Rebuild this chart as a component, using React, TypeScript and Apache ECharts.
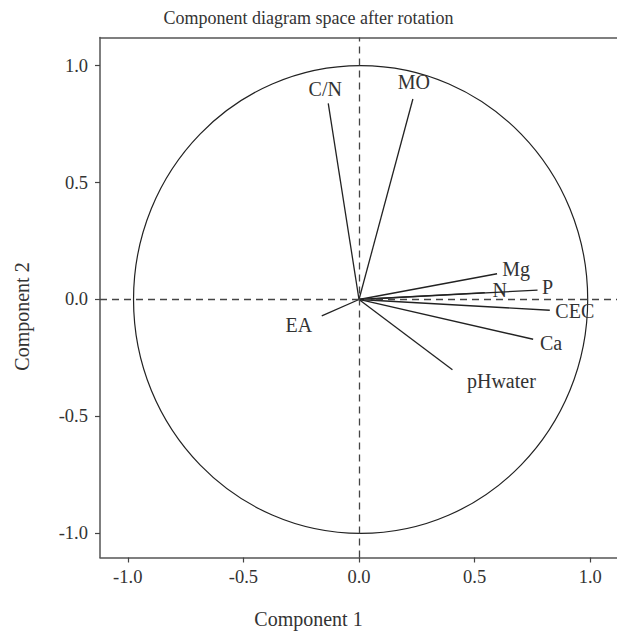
import React, { useEffect, useRef } from "react";
import * as echarts from "echarts";

const variableNames = ["C/N", "MO", "Mg", "N", "P", "CEC", "Ca", "pHwater", "EA"];
const component1 = [-0.133, 0.233, 0.597, 0.544, 0.772, 0.825, 0.753, 0.404, -0.161];
const component2 = [0.838, 0.857, 0.11, 0.029, 0.04, -0.046, -0.17, -0.30, -0.07];
const tickValues = [-1, -0.5, 0, 0.5, 1];
// reference circle: center x, radius x, radius y (data units)
const circleCenter = [0.007, 0];
const circleRadius = [0.982, 1.0];

// label offsets in px (positions kept apart from the data)
const labelOffsets: number[][] = [
  [-3, -14],
  [1, -17],
  [19, -5],
  [15, -3],
  [10, -3],
  [25, 1],
  [18, 4],
  [49, 11],
  [-23, 9],
];

const FONT = "'Liberation Serif', 'DejaVu Serif', serif";

export default function App() {
  const ref = useRef<HTMLDivElement>(null);
  useEffect(() => {
    if (!ref.current) return;
    const chart = echarts.init(ref.current, undefined, { renderer: "svg" });
    const lineCol = { color: "#555", width: 1.5 };
    const axisLabel = {
      customValues: tickValues,
      formatter: (v: number) => v.toFixed(1),
      color: "#333",
      fontFamily: FONT,
      fontSize: 18.5,
    };
    const axisTick = { show: true, inside: false, length: 5, customValues: tickValues, lineStyle: { color: "#444", width: 1.2 } };
    chart.setOption({
      animation: false,
      backgroundColor: "#fff",
      title: {
        text: "Component diagram space after rotation",
        left: "center",
        top: 4,
        textStyle: { fontFamily: FONT, fontSize: 18, fontWeight: "normal", color: "#333" },
      },
      grid: { left: 100, top: 37.5, width: 518, height: 520, show: false, outerBoundsMode: "none", containLabel: false },
      xAxis: [
        {
          type: "value",
          min: -1.12,
          max: 1.12,
          position: "bottom",
          axisLine: { show: true, onZero: false, lineStyle: lineCol },
          axisTick,
          axisLabel: { ...axisLabel, margin: 10 },
          splitLine: { show: false },
        },
        {
          type: "value",
          min: -1.12,
          max: 1.12,
          position: "top",
          axisLine: { show: true, onZero: false, lineStyle: lineCol },
          axisTick: { show: false },
          axisLabel: { show: false },
          splitLine: { show: false },
        },
      ],
      yAxis: {
        type: "value",
        min: -1.103,
        max: 1.12,
        axisLine: { show: true, onZero: false, lineStyle: lineCol },
        axisTick,
        axisLabel: { ...axisLabel, margin: 12 },
        splitLine: { show: false },
      },
      graphic: [
        {
          type: "text",
          x: 308.5,
          y: 619,
          style: {
            text: "Component 1",
            font: `20px ${FONT}`,
            fill: "#333",
            align: "center",
            verticalAlign: "middle",
          },
        },
        {
          type: "text",
          x: 22,
          y: 316.5,
          rotation: Math.PI / 2,
          style: {
            text: "Component 2",
            font: `20px ${FONT}`,
            fill: "#333",
            align: "center",
            verticalAlign: "middle",
          },
        },
      ],
      series: [
        {
          type: "custom",
          data: [[circleCenter[0], circleCenter[1], circleRadius[0], circleRadius[1]]],
          renderItem: (params: any, api: any) => {
            const c = api.coord([api.value(0), api.value(1)]);
            const s = api.size([api.value(2), api.value(3)]);
            return {
              type: "ellipse",
              shape: { cx: c[0], cy: c[1], rx: s[0], ry: s[1] },
              style: { fill: "none", stroke: "#222", lineWidth: 1.2 },
              silent: true,
            };
          },
          z: 2,
        },
        {
          type: "line",
          data: [],
          markLine: {
            silent: true,
            symbol: "none",
            label: { show: false },
            lineStyle: { type: [7, 5], color: "#444", width: 1.3 },
            data: [{ xAxis: 0 }, { yAxis: 0 }],
          },
        },
        {
          type: "custom",
          data: component1.map((x, i) => [x, component2[i]]),
          renderItem: (params: any, api: any) => {
            const i = params.dataIndex;
            const p0 = api.coord([0, 0]);
            const p1 = api.coord([api.value(0), api.value(1)]);
            const off = labelOffsets[i];
            return {
              type: "group",
              children: [
                {
                  type: "line",
                  shape: { x1: p0[0], y1: p0[1], x2: p1[0], y2: p1[1] },
                  style: { stroke: "#222", lineWidth: 1.3 },
                },
                {
                  type: "text",
                  style: {
                    text: variableNames[i],
                    x: p1[0] + off[0],
                    y: p1[1] + off[1],
                    align: "center",
                    verticalAlign: "middle",
                    font: `20px ${FONT}`,
                    fill: "#333",
                  },
                },
              ],
            };
          },
          z: 3,
        },
      ],
    });
    return () => chart.dispose();
  }, []);
  return (
    <div
      ref={ref}
      style={{ position: "absolute", left: 0, top: 0, width: 617, height: 633, overflow: "hidden" }}
    />
  );
}
